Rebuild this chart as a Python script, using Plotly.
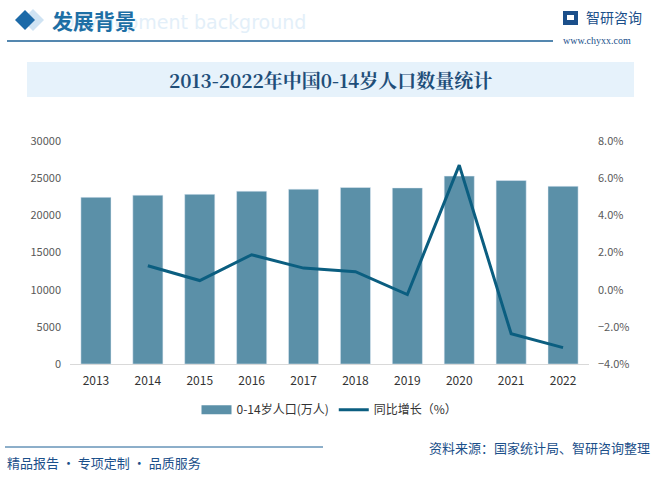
import plotly.graph_objects as go

years = ["2013", "2014", "2015", "2016", "2017", "2018", "2019", "2020", "2021", "2022"]
population = [22423, 22712, 22824, 23252, 23522, 23751, 23689, 25277, 24678, 23908]
growth = [None, 1.29, 0.49, 1.88, 1.16, 0.97, -0.26, 6.70, -2.37, -3.12]

bar_color = "#5b90a8"
line_color = "#0b5e80"
dark_blue = "#1b5f94"

fig = go.Figure()
fig.add_trace(go.Bar(x=years, y=population, name="0-14岁人口(万人)", marker_color=bar_color,
                     width=0.58, yaxis="y", showlegend=False))
# legend-only swatch for the bar series (wide rectangle like the reference)
fig.add_trace(go.Scatter(x=[None], y=[None], name="0-14岁人口(万人)", mode="lines",
                         line=dict(color=bar_color, width=9), yaxis="y", showlegend=True))
fig.add_trace(go.Scatter(x=years, y=growth, name="同比增长（%）", mode="lines",
                         line=dict(color=line_color, width=3), yaxis="y2", connectgaps=False))

font_main = "Microsoft YaHei, Noto Sans CJK SC, sans-serif"

fig.update_layout(
    width=661, height=483,
    margin=dict(l=70, r=72, t=141, b=119),
    paper_bgcolor="white", plot_bgcolor="white",
    font=dict(family=font_main, size=12, color="#333333"),
    showlegend=True,
    legend=dict(orientation="h", x=0.5, xanchor="center", y=-0.14, yanchor="top",
                font=dict(size=12, color="#333333"), itemwidth=30, traceorder="normal"),
    xaxis=dict(type="category", showline=True, linecolor="#d9d9d9", linewidth=1,
               ticks="", tickfont=dict(size=12, color="#333333"), showgrid=False,
               ticklabelstandoff=6),
    yaxis=dict(range=[0, 30000], dtick=5000, showgrid=False, zeroline=False,
               tickfont=dict(size=11, color="#595959"), ticks="", tickformat="d",
               ticklabelstandoff=8),
    yaxis2=dict(range=[-4, 8], dtick=2, overlaying="y", side="right", showgrid=False,
                zeroline=False, tickformat=".1f", ticksuffix="%",
                tickfont=dict(size=11, color="#595959"), ticks="", ticklabelstandoff=8),
)

W, H = 661, 483
pl, pr, pt, pb = 70, 72, 141, 119
pw, ph = W - pl - pr, H - pt - pb
def px(x):
    return (x - pl) / pw
def py(y):
    return (H - pb - y) / ph

shapes = [
    dict(type="rect", xref="paper", yref="paper", x0=px(27), x1=px(634), y0=py(97), y1=py(62),
         fillcolor="#e6f2fb", line=dict(width=0), layer="below"),
    dict(type="line", xref="paper", yref="paper", x0=px(7), x1=px(553), y0=py(41), y1=py(41),
         line=dict(color=dark_blue, width=1.5)),
    dict(type="line", xref="paper", yref="paper", x0=px(5), x1=px(323), y0=py(447), y1=py(447),
         line=dict(color=dark_blue, width=1)),
    dict(type="path", xref="paper", yref="paper",
         path=f"M {px(33)},{py(9)} L {px(44)},{py(20)} L {px(33)},{py(31)} L {px(22)},{py(20)} Z",
         fillcolor="#cfe3f3", line=dict(width=0)),
    dict(type="path", xref="paper", yref="paper",
         path=f"M {px(25)},{py(10)} L {px(35)},{py(20)} L {px(25)},{py(30)} L {px(15)},{py(20)} Z",
         fillcolor="#1c6aa8", line=dict(width=0)),
    dict(type="rect", xref="paper", yref="paper", x0=px(563), x1=px(578), y0=py(25), y1=py(11),
         fillcolor="#1b4f8a", line=dict(width=0)),
    dict(type="rect", xref="paper", yref="paper", x0=px(567), x1=px(574), y0=py(20), y1=py(15),
         fillcolor="white", line=dict(width=0)),
]
fig.update_layout(shapes=shapes)

ann = [
    dict(text="Development background", x=px(58), y=py(22), xanchor="left", yanchor="middle",
         font=dict(size=19, color="#e3eff9", family="DejaVu Sans, sans-serif"), showarrow=False),
    dict(text="<b>发展背景</b>", x=px(50), y=py(20), xanchor="left", yanchor="middle",
         font=dict(size=21, color="#1d6fa5", family="Noto Sans CJK SC, sans-serif"), showarrow=False),
    dict(text="智研咨询", x=px(584), y=py(17), xanchor="left", yanchor="middle",
         font=dict(size=14, color="#1b4f8a", family="Noto Sans CJK SC, sans-serif"), showarrow=False),
    dict(text="www.chyxx.com", x=px(561), y=py(40), xanchor="left", yanchor="middle",
         font=dict(size=10, color="#1b4f8a", family="Liberation Serif, serif"), showarrow=False),
    dict(text="<b>2013-2022年中国0-14岁人口数量统计</b>", x=px(330), y=py(79), xanchor="center", yanchor="middle",
         font=dict(size=19, color="#1f4e79", family="Noto Serif CJK SC, Noto Sans CJK SC, serif"), showarrow=False),
    dict(text="资料来源：国家统计局、智研咨询整理", x=px(652), y=py(447), xanchor="right", yanchor="middle",
         font=dict(size=13, color="#1b4f8a", family="Noto Sans CJK SC, sans-serif"), showarrow=False),
    dict(text="精品报告 · 专项定制 · 品质服务", x=px(5), y=py(462), xanchor="left", yanchor="middle",
         font=dict(size=13, color="#1b4f8a", family="Noto Sans CJK SC, sans-serif"), showarrow=False),
]
for a in ann:
    a["xref"] = "paper"
    a["yref"] = "paper"
fig.update_layout(annotations=ann)

fig.write_html("out.html", config={"displayModeBar": False},
               post_script="document.body.style.margin='0';document.body.style.padding='0';")
